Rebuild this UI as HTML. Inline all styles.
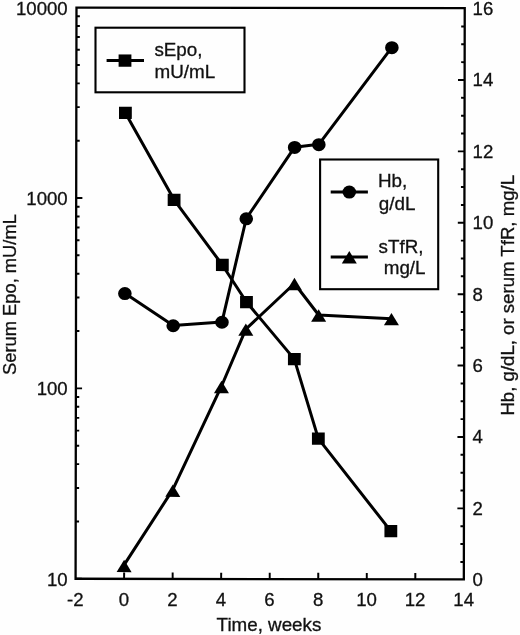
<!DOCTYPE html>
<html><head><meta charset="utf-8"><title>Figure</title>
<style>html,body{margin:0;padding:0;background:#fefefe}svg{display:block}text{font-family:"Liberation Sans",Arial,Helvetica,sans-serif;fill:#111}</style>
</head><body>
<svg width="520" height="635" viewBox="0 0 520 635">
<rect x="0" y="0" width="520" height="635" fill="#fefefe"/>
<g transform="rotate(0.09 260 317)">
<g stroke="#000" stroke-width="2.3" fill="none" stroke-linecap="butt">
<rect x="76.0" y="7.88" width="388.25" height="571.17"/>
<line x1="76.0" y1="579.05" x2="82.2" y2="579.05" stroke-width="1.95"/>
<line x1="76.0" y1="521.74" x2="79.4" y2="521.74" stroke-width="1.95"/>
<line x1="76.0" y1="488.21" x2="79.4" y2="488.21" stroke-width="1.95"/>
<line x1="76.0" y1="464.42" x2="79.4" y2="464.42" stroke-width="1.95"/>
<line x1="76.0" y1="445.97" x2="79.4" y2="445.97" stroke-width="1.95"/>
<line x1="76.0" y1="430.90" x2="79.4" y2="430.90" stroke-width="1.95"/>
<line x1="76.0" y1="418.15" x2="79.4" y2="418.15" stroke-width="1.95"/>
<line x1="76.0" y1="407.11" x2="79.4" y2="407.11" stroke-width="1.95"/>
<line x1="76.0" y1="397.37" x2="79.4" y2="397.37" stroke-width="1.95"/>
<line x1="76.0" y1="388.66" x2="82.2" y2="388.66" stroke-width="1.95"/>
<line x1="76.0" y1="331.35" x2="79.4" y2="331.35" stroke-width="1.95"/>
<line x1="76.0" y1="297.82" x2="79.4" y2="297.82" stroke-width="1.95"/>
<line x1="76.0" y1="274.03" x2="79.4" y2="274.03" stroke-width="1.95"/>
<line x1="76.0" y1="255.58" x2="79.4" y2="255.58" stroke-width="1.95"/>
<line x1="76.0" y1="240.51" x2="79.4" y2="240.51" stroke-width="1.95"/>
<line x1="76.0" y1="227.76" x2="79.4" y2="227.76" stroke-width="1.95"/>
<line x1="76.0" y1="216.72" x2="79.4" y2="216.72" stroke-width="1.95"/>
<line x1="76.0" y1="206.98" x2="79.4" y2="206.98" stroke-width="1.95"/>
<line x1="76.0" y1="198.27" x2="82.2" y2="198.27" stroke-width="1.95"/>
<line x1="76.0" y1="140.96" x2="79.4" y2="140.96" stroke-width="1.95"/>
<line x1="76.0" y1="107.43" x2="79.4" y2="107.43" stroke-width="1.95"/>
<line x1="76.0" y1="83.64" x2="79.4" y2="83.64" stroke-width="1.95"/>
<line x1="76.0" y1="65.19" x2="79.4" y2="65.19" stroke-width="1.95"/>
<line x1="76.0" y1="50.12" x2="79.4" y2="50.12" stroke-width="1.95"/>
<line x1="76.0" y1="37.37" x2="79.4" y2="37.37" stroke-width="1.95"/>
<line x1="76.0" y1="26.33" x2="79.4" y2="26.33" stroke-width="1.95"/>
<line x1="76.0" y1="16.59" x2="79.4" y2="16.59" stroke-width="1.95"/>
<line x1="464.25" y1="561.60" x2="460.75" y2="561.60" stroke-width="1.95"/>
<line x1="464.25" y1="543.75" x2="460.75" y2="543.75" stroke-width="1.95"/>
<line x1="464.25" y1="525.90" x2="460.75" y2="525.90" stroke-width="1.95"/>
<line x1="464.25" y1="508.05" x2="457.65" y2="508.05" stroke-width="1.95"/>
<line x1="464.25" y1="490.20" x2="460.75" y2="490.20" stroke-width="1.95"/>
<line x1="464.25" y1="472.36" x2="460.75" y2="472.36" stroke-width="1.95"/>
<line x1="464.25" y1="454.51" x2="460.75" y2="454.51" stroke-width="1.95"/>
<line x1="464.25" y1="436.66" x2="457.65" y2="436.66" stroke-width="1.95"/>
<line x1="464.25" y1="418.81" x2="460.75" y2="418.81" stroke-width="1.95"/>
<line x1="464.25" y1="400.96" x2="460.75" y2="400.96" stroke-width="1.95"/>
<line x1="464.25" y1="383.11" x2="460.75" y2="383.11" stroke-width="1.95"/>
<line x1="464.25" y1="365.26" x2="457.65" y2="365.26" stroke-width="1.95"/>
<line x1="464.25" y1="347.41" x2="460.75" y2="347.41" stroke-width="1.95"/>
<line x1="464.25" y1="329.56" x2="460.75" y2="329.56" stroke-width="1.95"/>
<line x1="464.25" y1="311.71" x2="460.75" y2="311.71" stroke-width="1.95"/>
<line x1="464.25" y1="293.86" x2="457.65" y2="293.86" stroke-width="1.95"/>
<line x1="464.25" y1="276.02" x2="460.75" y2="276.02" stroke-width="1.95"/>
<line x1="464.25" y1="258.17" x2="460.75" y2="258.17" stroke-width="1.95"/>
<line x1="464.25" y1="240.32" x2="460.75" y2="240.32" stroke-width="1.95"/>
<line x1="464.25" y1="222.47" x2="457.65" y2="222.47" stroke-width="1.95"/>
<line x1="464.25" y1="204.62" x2="460.75" y2="204.62" stroke-width="1.95"/>
<line x1="464.25" y1="186.77" x2="460.75" y2="186.77" stroke-width="1.95"/>
<line x1="464.25" y1="168.92" x2="460.75" y2="168.92" stroke-width="1.95"/>
<line x1="464.25" y1="151.07" x2="457.65" y2="151.07" stroke-width="1.95"/>
<line x1="464.25" y1="133.22" x2="460.75" y2="133.22" stroke-width="1.95"/>
<line x1="464.25" y1="115.37" x2="460.75" y2="115.37" stroke-width="1.95"/>
<line x1="464.25" y1="97.53" x2="460.75" y2="97.53" stroke-width="1.95"/>
<line x1="464.25" y1="79.68" x2="457.65" y2="79.68" stroke-width="1.95"/>
<line x1="464.25" y1="61.83" x2="460.75" y2="61.83" stroke-width="1.95"/>
<line x1="464.25" y1="43.98" x2="460.75" y2="43.98" stroke-width="1.95"/>
<line x1="464.25" y1="26.13" x2="460.75" y2="26.13" stroke-width="1.95"/>
<line x1="124.53" y1="579.05" x2="124.53" y2="572.75" stroke-width="1.95"/>
<line x1="173.06" y1="579.05" x2="173.06" y2="572.75" stroke-width="1.95"/>
<line x1="221.59" y1="579.05" x2="221.59" y2="572.75" stroke-width="1.95"/>
<line x1="270.12" y1="579.05" x2="270.12" y2="572.75" stroke-width="1.95"/>
<line x1="318.66" y1="579.05" x2="318.66" y2="572.75" stroke-width="1.95"/>
<line x1="367.19" y1="579.05" x2="367.19" y2="572.75" stroke-width="1.95"/>
<line x1="415.72" y1="579.05" x2="415.72" y2="572.75" stroke-width="1.95"/>
</g>
<g stroke="#000" stroke-width="3.0" fill="none" stroke-linejoin="round">
<polyline points="125.08,113.14 173.92,199.94 222.26,265.03 246.46,302.06 294.39,359.09 318.53,438.54 391.18,530.91"/>
<polyline points="124.83,293.46 173.21,325.59 221.99,322.02 246.11,218.50 294.39,147.10 318.56,144.25 391.45,47.15"/>
<polyline points="124.53,565.13 173.06,489.80 221.59,386.28 245.86,329.16 294.39,283.47 318.66,314.88 391.45,318.45"/>
</g>
<g fill="#000" stroke="none">
<rect x="118.68" y="106.99" width="12.8" height="12.3"/>
<rect x="167.52" y="193.79" width="12.8" height="12.3"/>
<rect x="215.86" y="258.88" width="12.8" height="12.3"/>
<rect x="240.06" y="295.91" width="12.8" height="12.3"/>
<rect x="287.99" y="352.94" width="12.8" height="12.3"/>
<rect x="312.13" y="432.39" width="12.8" height="12.3"/>
<rect x="384.78" y="524.76" width="12.8" height="12.3"/>
<ellipse cx="124.83" cy="293.76" rx="6.8" ry="6.5"/>
<ellipse cx="173.21" cy="325.89" rx="6.8" ry="6.5"/>
<ellipse cx="221.99" cy="322.32" rx="6.8" ry="6.5"/>
<ellipse cx="246.11" cy="218.80" rx="6.8" ry="6.5"/>
<ellipse cx="294.39" cy="147.40" rx="6.8" ry="6.5"/>
<ellipse cx="318.56" cy="144.55" rx="6.8" ry="6.5"/>
<ellipse cx="391.45" cy="47.45" rx="6.8" ry="6.5"/>
<polygon points="124.53,559.93 132.03,572.33 117.03,572.33"/>
<polygon points="173.06,484.60 180.56,497.00 165.56,497.00"/>
<polygon points="221.59,380.88 229.09,393.28 214.09,393.28"/>
<polygon points="245.86,323.46 253.36,335.86 238.36,335.86"/>
<polygon points="294.39,277.77 301.89,290.17 286.89,290.17"/>
<polygon points="318.66,309.18 326.16,321.58 311.16,321.58"/>
<polygon points="391.45,312.75 398.95,325.15 383.95,325.15"/>
</g>
</g>
<g stroke="#000" stroke-width="2.1" fill="#fefefe">
<rect x="95.5" y="27.7" width="149.0" height="64.6"/>
<rect x="320.1" y="159.5" width="118.1" height="129.7"/>
</g>
<g stroke="#000" stroke-width="3.0" fill="none">
<line x1="106.6" y1="60.6" x2="144" y2="60.6"/>
<line x1="330.7" y1="192.1" x2="367.9" y2="192.1"/>
<line x1="330.7" y1="256.9" x2="367.9" y2="256.9"/>
</g>
<g fill="#000">
<rect x="118.60" y="54.45" width="12.8" height="12.3"/>
<ellipse cx="349.30" cy="192.10" rx="6.8" ry="6.5"/>
<polygon points="349.30,251.00 356.80,263.40 341.80,263.40"/>
</g>
<g font-size="18" stroke="#111" stroke-width="0.3">
<text transform="translate(154.40,56.00) scale(1.028,1)" font-size="18.3">sEpo,</text>
<text transform="translate(154.50,78.00) scale(1.03,1)" font-size="18.3">mU/mL</text>
<text transform="translate(378.00,187.00) scale(1.03,1)" font-size="18.3">Hb,</text>
<text transform="translate(378.80,210.00) scale(1.03,1)" font-size="18.3">g/dL</text>
<text transform="translate(378.60,253.00) scale(1.028,1)" font-size="18.3">sTfR,</text>
<text transform="translate(383.70,274.00) scale(1.03,1)" font-size="18.3">mg/L</text>
<text transform="translate(67.70,14.78) scale(1.035,1)" text-anchor="end">10000</text>
<text transform="translate(67.70,204.87) scale(1.035,1)" text-anchor="end">1000</text>
<text transform="translate(67.70,395.26) scale(1.035,1)" text-anchor="end">100</text>
<text transform="translate(67.70,585.65) scale(1.035,1)" text-anchor="end">10</text>
<text transform="translate(472.60,586.25) scale(1.035,1)">0</text>
<text transform="translate(472.60,514.85) scale(1.035,1)">2</text>
<text transform="translate(472.60,443.46) scale(1.035,1)">4</text>
<text transform="translate(472.60,372.06) scale(1.035,1)">6</text>
<text transform="translate(472.60,300.66) scale(1.035,1)">8</text>
<text transform="translate(472.60,229.27) scale(1.035,1)">10</text>
<text transform="translate(472.60,157.87) scale(1.035,1)">12</text>
<text transform="translate(472.60,86.48) scale(1.035,1)">14</text>
<text transform="translate(472.60,15.08) scale(1.035,1)">16</text>
<text transform="translate(75.40,605.80) scale(1.035,1)" text-anchor="middle">-2</text>
<text transform="translate(123.93,605.80) scale(1.035,1)" text-anchor="middle">0</text>
<text transform="translate(172.46,605.80) scale(1.035,1)" text-anchor="middle">2</text>
<text transform="translate(220.99,605.80) scale(1.035,1)" text-anchor="middle">4</text>
<text transform="translate(269.52,605.80) scale(1.035,1)" text-anchor="middle">6</text>
<text transform="translate(318.06,605.80) scale(1.035,1)" text-anchor="middle">8</text>
<text transform="translate(366.59,605.80) scale(1.035,1)" text-anchor="middle">10</text>
<text transform="translate(415.12,605.80) scale(1.035,1)" text-anchor="middle">12</text>
<text transform="translate(463.65,605.80) scale(1.035,1)" text-anchor="middle">14</text>
<text transform="translate(216.60,630.80) scale(1.045,1)">Time, weeks</text>
<text transform="translate(16.40,375.00) rotate(-90) scale(1.018,1)">Serum Epo, mU/mL</text>
<text transform="translate(514.00,415.60) rotate(-90) scale(1.035,1)">Hb, g/dL, or serum TfR, mg/L</text>
</g>
</svg></body></html>
